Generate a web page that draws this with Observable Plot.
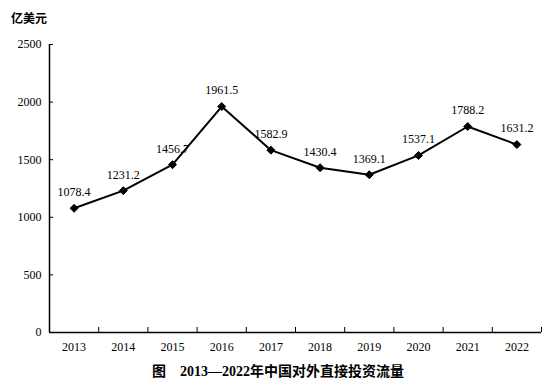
<!DOCTYPE html>
<html><head><meta charset="utf-8">
<script src="https://cdn.jsdelivr.net/npm/d3@7"></script>
<script src="https://cdn.jsdelivr.net/npm/@observablehq/plot@0.6"></script>
<style>
body{margin:0;background:#fff;width:556px;height:390px;position:relative;overflow:hidden}
#unit{position:absolute;left:11px;top:9px;font:12px "Noto Sans CJK SC",sans-serif;font-weight:bold;color:#000}
#title{position:absolute;left:0;width:556px;top:360px;text-align:center;font:bold 14px "Liberation Serif","Noto Sans CJK SC",serif;color:#000}
#chart{position:absolute;left:0;top:0}
</style></head>
<body>
<div id="unit">亿美元</div>
<div id="chart"></div>
<div id="title">图　2013—2022年中国对外直接投资流量</div>
<script>
const years = [2013, 2014, 2015, 2016, 2017, 2018, 2019, 2020, 2021, 2022];
const values = [1078.4, 1231.2, 1456.7, 1961.5, 1582.9, 1430.4, 1369.1, 1537.1, 1788.2, 1631.2];
const yTicks = [0, 500, 1000, 1500, 2000, 2500];
const data = years.map((y, i) => ({year: y, value: values[i]}));
const bounds = d3.range(years[0] - 0.5, years[years.length - 1] + 1, 1);
const font = "Liberation Serif";

const chart = Plot.plot({
  width: 556, height: 360,
  marginLeft: 49, marginRight: 15, marginTop: 44, marginBottom: 28,
  style: {fontFamily: font, fontSize: "12px", color: "#000", background: "transparent"},
  x: {domain: [bounds[0], bounds[bounds.length - 1]]},
  y: {domain: [0, 2500]},
  marks: [
    Plot.axisY({ticks: yTicks, tickSize: -4, tickPadding: 12, tickFormat: d => String(d), label: null, fontSize: 12}),
    Plot.axisX({ticks: bounds, tickSize: -5, tickFormat: () => "", label: null}),
    Plot.axisX({ticks: years, tickSize: 0, tickPadding: 10, tickFormat: d => String(d), label: null, fontSize: 12}),
    Plot.ruleX([bounds[0]], {stroke: "#000", strokeWidth: 1.5}),
    Plot.ruleY([0], {stroke: "#000", strokeWidth: 1.5}),
    Plot.line(data, {x: "year", y: "value", stroke: "#000", strokeWidth: 2}),
    Plot.dot(data, {x: "year", y: "value", symbol: "diamond2", fill: "#000", stroke: "#000", strokeWidth: 1, r: 3.6}),
    Plot.text(data, {x: "year", y: "value", text: d => d.value.toFixed(1), dy: -16, fontSize: 12, fill: "#000"})
  ]
});
document.getElementById("chart").appendChild(chart);
</script>
</body></html>
